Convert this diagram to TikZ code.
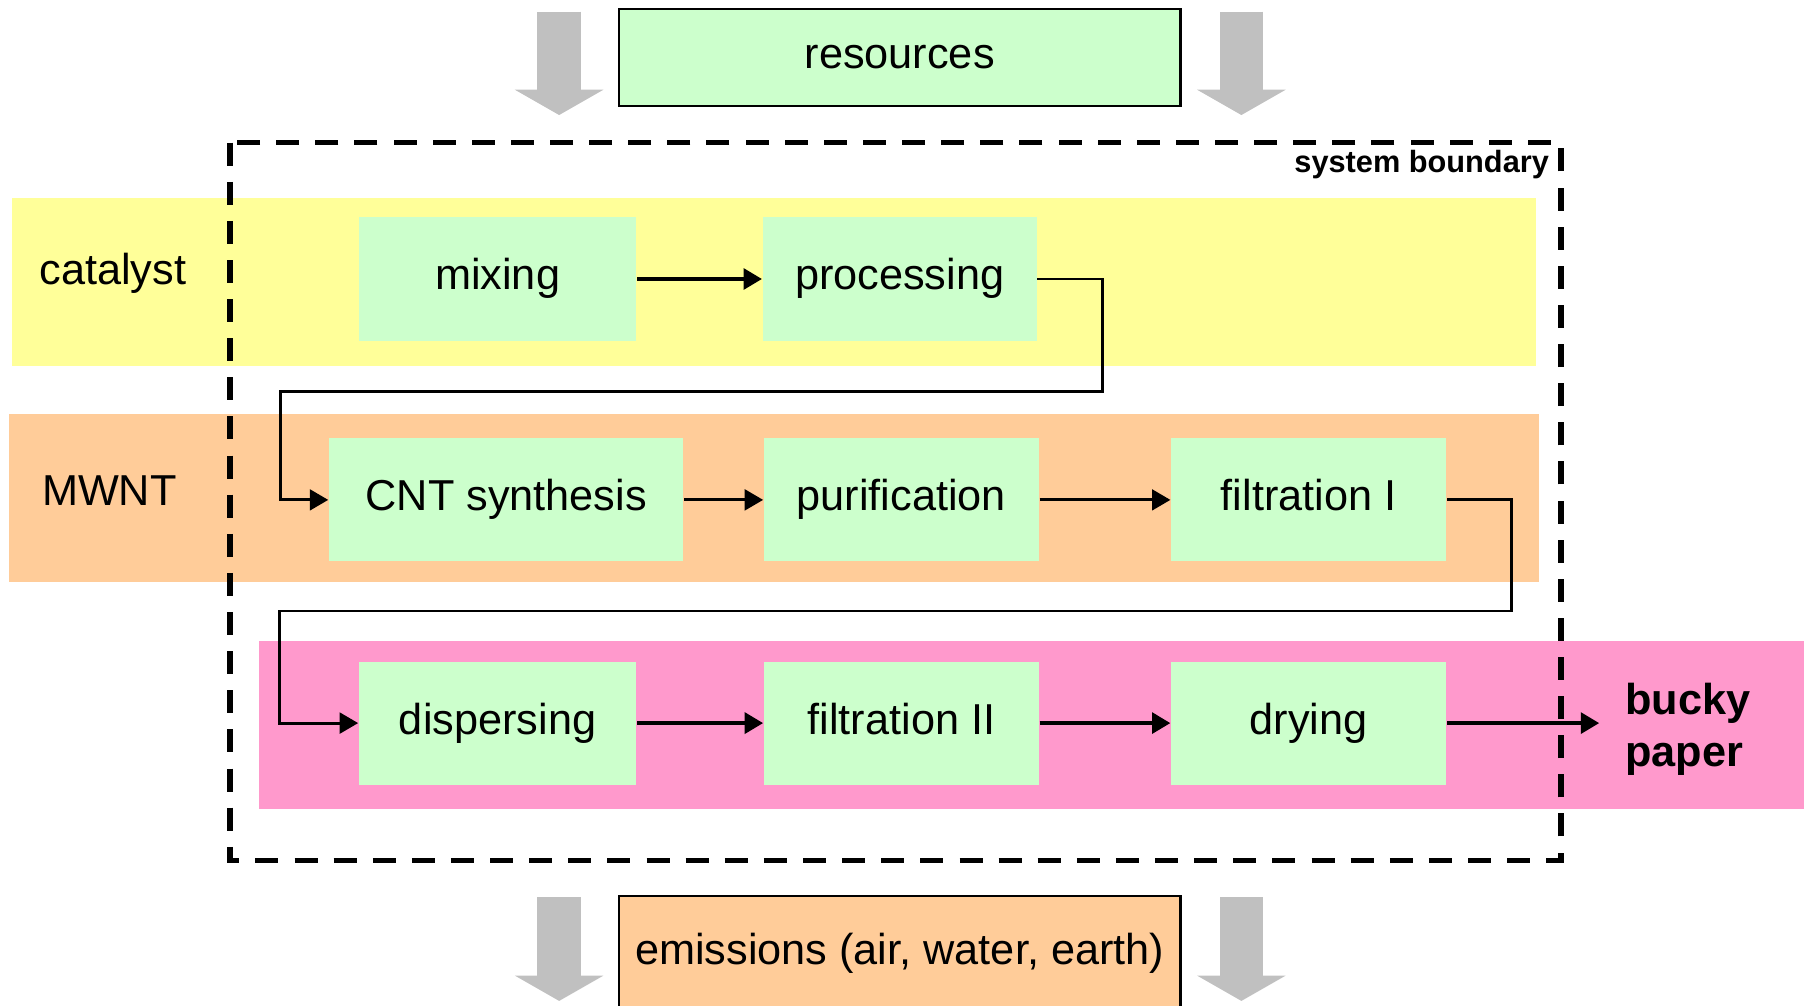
\documentclass[tikz,border=0pt]{standalone}
\usepackage{fontspec}
\setmainfont{Liberation Sans}
\usetikzlibrary{arrows.meta}
\definecolor{boxgreen}{HTML}{CCFFCC}
\definecolor{bandyellow}{HTML}{FFFF99}
\definecolor{bandorange}{HTML}{FFCC99}
\definecolor{bandpink}{HTML}{FF99CC}
\definecolor{arrowgray}{HTML}{C0C0C0}
\tikzset{>/.tip={Triangle[length=1.6mm,width=1.8mm]},
  band/.style={inner sep=0pt, minimum height=14.6mm},
  boxtext/.style={text height=2.8mm, text depth=0.9mm},
  procbox/.style={boxtext, fill=boxgreen, inner sep=0pt, minimum height=10.7mm},
  iobox/.style={boxtext, draw, line width=0.6pt, inner sep=0pt, minimum width=48.8mm},
  flow/.style={->, line width=0.7pt},
  flowthick/.style={->, line width=1pt},
  bigarrow/.style={arrowgray, line width=3.8mm, -{Triangle[length=2.2mm,width=7.6mm]}},
  boundary/.style={line width=1.4pt, dash pattern=on 2mm off 1.4mm}}

\begin{document}
\begin{tikzpicture}[x=0.1mm, y=-0.1mm, font=\fontsize{10.7}{12.8}\selectfont]
\useasboundingbox (0,0) rectangle (1568,874);

\node[band, fill=bandyellow, minimum width=132.5mm] (catband) at (672.5,245) {};
\node[band, fill=bandorange, minimum width=133mm] (mwntband) at (673,433) {};
\node[band, fill=bandpink, minimum width=135mm, anchor=west] (buckyband) at (224,630) {};

\node[boxtext] (catlabel) at (98,238) {catalyst};
\node[boxtext] (mwntlabel) at (95,430) {MWNT};
\node[anchor=west, align=left, inner xsep=2.2mm, inner ysep=0pt,
  font=\fontsize{10.7}{12.8}\selectfont\bfseries] (bucky) at (1390,634) {bucky\\paper};

\node[procbox, minimum width=24.1mm] (mixing) at (432.5,242.5) {mixing};
\node[procbox, minimum width=23.8mm] (processing) at (782,242.5) {processing};
\node[procbox, minimum width=30.8mm] (cnt) at (440,434.5) {CNT synthesis};
\node[procbox, minimum width=23.9mm] (purif) at (783.5,434.5) {purification};
\node[procbox, minimum width=23.9mm] (filtI) at (1137.5,434.5) {filtration I};
\node[procbox, minimum width=24.1mm] (disp) at (432.5,628.5) {dispersing};
\node[procbox, minimum width=23.9mm] (filtII) at (783.5,628.5) {filtration II};
\node[procbox, minimum width=23.9mm] (drying) at (1137.5,628.5) {drying};

\node[iobox, fill=boxgreen, minimum height=8.4mm] (res) at (782,50) {resources};
\node[iobox, fill=bandorange, minimum height=10mm] (emis) at (782,829) {emissions (air, water, earth)};

\foreach \n/\x in {left/486, right/1079}
{
  \coordinate (in\n) at (\x,10);
  \coordinate (intip\n) at (\x,100);
  \coordinate (out\n) at (\x,780);
  \coordinate (outtip\n) at (\x,870);
  \draw[bigarrow] (in\n) -- (intip\n);
  \draw[bigarrow] (out\n) -- (outtip\n);
}

\draw[boundary] (200,124) rectangle (1357,748);
\node[anchor=base east, inner sep=0pt,
  font=\fontsize{7.6}{9}\selectfont\bfseries] (sysb) at (1347,150) {system boundary};

\coordinate (turnA) at (958,340);
\coordinate (backA) at (244,340);
\coordinate (turnB) at (1314,531);
\coordinate (backB) at (243,531);
\draw[flow] (processing.east) -| (turnA) -- (backA) |- (cnt.west);
\draw[flow] (filtI.east) -| (turnB) -- (backB) |- (disp.west);

\foreach \a/\b in {cnt/purif, purif/filtI}
  \draw[flow] (\a) to (\b);
\foreach \a/\b in {mixing/processing, disp/filtII, filtII/drying}
  \draw[flowthick] (\a) to (\b);
\draw[flowthick] (drying.east) -- (drying.east -| bucky.west);
\end{tikzpicture}
\end{document}
